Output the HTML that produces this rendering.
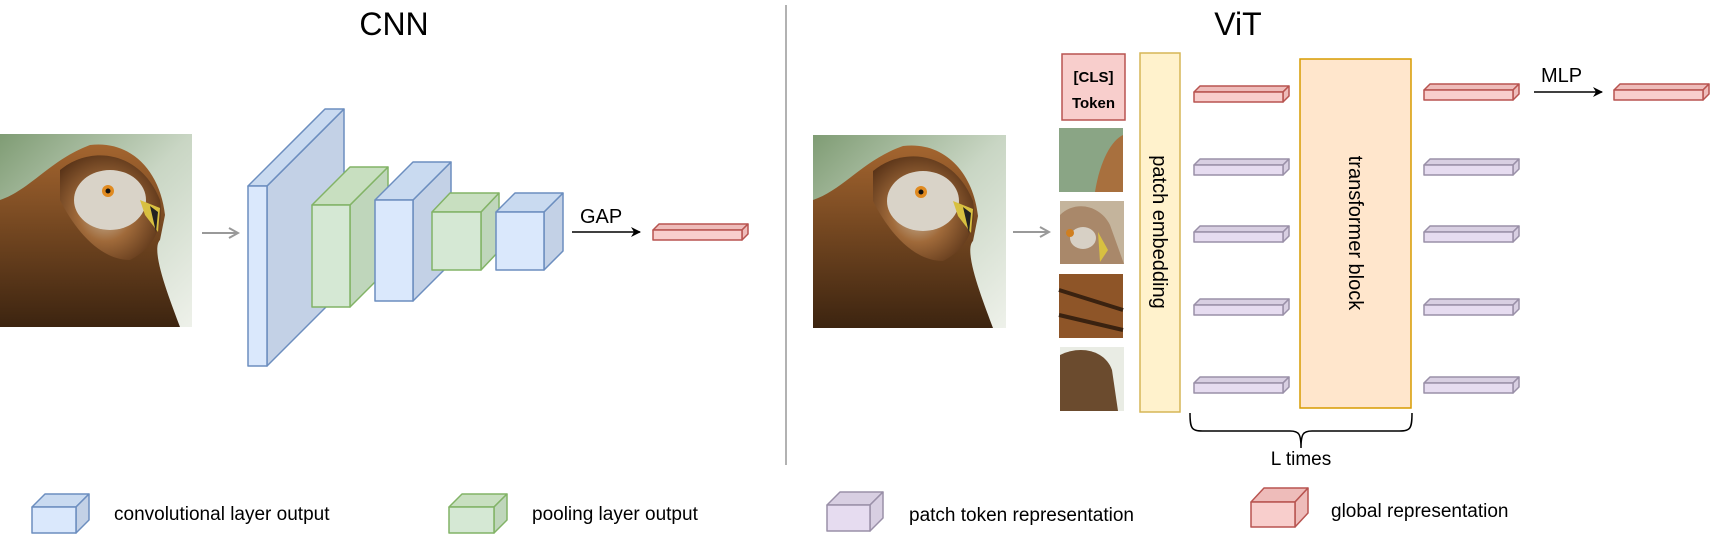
<!DOCTYPE html>
<html><head><meta charset="utf-8"><style>
html,body{margin:0;padding:0;background:#fff;}
svg{display:block;font-family:"Liberation Sans",Arial,sans-serif;}
</style></head><body>
<svg width="1712" height="544" viewBox="0 0 1712 544" xmlns="http://www.w3.org/2000/svg">
<defs>
<linearGradient id="bg" x1="0" y1="0" x2="1" y2="1">
<stop offset="0" stop-color="#7f9c74"/><stop offset="0.5" stop-color="#c9d6c4"/><stop offset="1" stop-color="#eef1ea"/>
</linearGradient>
<radialGradient id="bird" cx="0.45" cy="0.55" r="0.6">
<stop offset="0" stop-color="#c9b8a0"/><stop offset="0.45" stop-color="#a06a3a"/><stop offset="1" stop-color="#5a3418"/>
</radialGradient>
<linearGradient id="bodyg" x1="0" y1="0" x2="0" y2="1">
<stop offset="0" stop-color="#a4652f"/><stop offset="1" stop-color="#3c2410"/>
</linearGradient>
<marker id="ah" markerWidth="10" markerHeight="10" refX="9" refY="5" orient="auto" markerUnits="userSpaceOnUse"><path d="M0,0 L10,5 L0,10 L3,5z" fill="#000"/></marker>
<marker id="ag" markerWidth="12" markerHeight="12" refX="10" refY="6" orient="auto" markerUnits="userSpaceOnUse"><path d="M1,1 L10,6 L1,11" fill="none" stroke="#999" stroke-width="2"/></marker>
</defs>

<!-- titles -->
<text x="394" y="35" font-size="32" text-anchor="middle">CNN</text>
<text x="1238" y="35" font-size="32" text-anchor="middle">ViT</text>
<line x1="786" y1="5" x2="786" y2="465" stroke="#999" stroke-width="1.5"/>

<!-- eagle 1 -->
<g>
<rect x="0" y="134" width="192" height="193" fill="url(#bg)"/>
<path d="M0,200 C30,190 50,160 90,145 C130,140 160,170 165,215 L160,240 C150,250 170,300 180,327 L0,327z" fill="url(#bodyg)"/>
<path d="M60,170 C90,145 140,150 160,200 C165,230 150,250 130,260 C100,260 75,230 60,200z" fill="url(#bird)"/>
<ellipse cx="110" cy="200" rx="36" ry="30" fill="#d9d3c8"/>
<circle cx="108" cy="191" r="6" fill="#e08a20"/><circle cx="108" cy="191" r="2.5" fill="#111"/>
<path d="M140,200 L160,208 L158,232 L145,215z" fill="#d8c040"/>
<path d="M150,206 L158,212 L156,232z" fill="#222"/>
</g>
<line x1="202" y1="233" x2="238" y2="233" stroke="#999" stroke-width="2" marker-end="url(#ag)"/>

<!-- CNN blocks -->
<g stroke="#6c8ebf" stroke-width="1.5" stroke-linejoin="round">
<polygon points="267,186 344,109 344,289 267,366" fill="#c3d1e6"/>
<polygon points="248,186 325,109 344,109 267,186" fill="#c9daf0"/>
<rect x="248" y="186" width="19" height="180" fill="#dae8fc"/>
</g>
<g stroke="#82b366" stroke-width="1.5" stroke-linejoin="round">
<polygon points="350,205 388,167 388,269 350,307" fill="#bfd6bb"/>
<polygon points="312,205 350,167 388,167 350,205" fill="#c8dfc0"/>
<rect x="312" y="205" width="38" height="102" fill="#d5e8d4"/>
</g>
<g stroke="#6c8ebf" stroke-width="1.5" stroke-linejoin="round">
<polygon points="413,200 451,162 451,263 413,301" fill="#c3d1e6"/>
<polygon points="375,200 413,162 451,162 413,200" fill="#c9daf0"/>
<rect x="375" y="200" width="38" height="101" fill="#dae8fc"/>
</g>
<g stroke="#82b366" stroke-width="1.5" stroke-linejoin="round">
<polygon points="481,212 499,193 499,251 481,270" fill="#bfd6bb"/>
<polygon points="432,212 450,193 499,193 481,212" fill="#c8dfc0"/>
<rect x="432" y="212" width="49" height="58" fill="#d5e8d4"/>
</g>
<g stroke="#6c8ebf" stroke-width="1.5" stroke-linejoin="round">
<polygon points="544,212 563,193 563,251 544,270" fill="#c3d1e6"/>
<polygon points="496,212 515,193 563,193 544,212" fill="#c9daf0"/>
<rect x="496" y="212" width="48" height="58" fill="#dae8fc"/>
</g>
<text x="580" y="223" font-size="20">GAP</text>
<line x1="572" y1="232" x2="640" y2="232" stroke="#000" stroke-width="1.5" marker-end="url(#ah)"/>
<g stroke="#b85450" stroke-width="1.5" stroke-linejoin="round">
<polygon points="653,230 659,224 748,224 742,230" fill="#eebcba"/>
<polygon points="742,230 748,224 748,234 742,240" fill="#eebcba"/>
<rect x="653" y="230" width="89" height="10" fill="#f8cecc"/>
</g>

<!-- eagle 2 -->
<g>
<rect x="813" y="135" width="193" height="193" fill="url(#bg)"/>
<path d="M813,200 C843,190 863,160 903,146 C943,141 973,171 978,216 L973,241 C963,251 983,301 993,328 L813,328z" fill="url(#bodyg)"/>
<path d="M873,171 C903,146 953,151 973,201 C978,231 963,251 943,261 C913,261 888,231 873,201z" fill="url(#bird)"/>
<ellipse cx="923" cy="201" rx="36" ry="30" fill="#d9d3c8"/>
<circle cx="921" cy="192" r="6" fill="#e08a20"/><circle cx="921" cy="192" r="2.5" fill="#111"/>
<path d="M953,201 L973,209 L971,233 L958,216z" fill="#d8c040"/>
<path d="M963,207 L971,213 L969,233z" fill="#222"/>
</g>
<line x1="1013" y1="232" x2="1049" y2="232" stroke="#999" stroke-width="2" marker-end="url(#ag)"/>

<!-- CLS -->
<rect x="1062" y="54" width="63" height="66" fill="#f8cecc" stroke="#b85450" stroke-width="1.5"/>
<text x="1093.5" y="82" font-size="15" font-weight="bold" text-anchor="middle">[CLS]</text>
<text x="1093.5" y="108" font-size="15" font-weight="bold" text-anchor="middle">Token</text>

<!-- patches -->
<rect x="1059" y="128" width="64" height="64" fill="#8aa585"/>
<path d="M1095,192 C1100,160 1112,140 1123,135 L1123,192z" fill="#a8703e"/>
<rect x="1060" y="201" width="64" height="63" fill="#c4b49c"/>
<path d="M1060,215 C1075,200 1100,205 1110,225 L1124,264 L1060,264z" fill="#a9886a"/>
<ellipse cx="1083" cy="238" rx="13" ry="11" fill="#d7d0c5"/>
<circle cx="1070" cy="233" r="4" fill="#d07f20"/><path d="M1098,232 L1108,250 L1100,262z" fill="#d8c040"/>
<rect x="1059" y="274" width="64" height="64" fill="#8e5528"/>
<path d="M1059,290 L1123,310 M1059,315 L1123,330" stroke="#3a2210" stroke-width="4"/>
<rect x="1060" y="347" width="64" height="64" fill="#e9ece4"/>
<path d="M1060,355 C1080,345 1105,350 1112,370 L1118,411 L1060,411z" fill="#6b4b2e"/>

<!-- patch embedding -->
<rect x="1140" y="53" width="40" height="359" fill="#fff2cc" stroke="#d6b656" stroke-width="1.5"/>
<text transform="translate(1153,232) rotate(90)" font-size="20" text-anchor="middle">patch embedding</text>

<!-- transformer -->
<rect x="1300" y="59" width="111" height="349" fill="#ffe6cc" stroke="#d79b00" stroke-width="1.5"/>
<text transform="translate(1349,233) rotate(90)" font-size="20" text-anchor="middle">transformer block</text>

<!-- tokens -->
<g stroke-width="1.5" stroke-linejoin="round">
<g stroke="#b85450">
<polygon points="1194,92 1200,86 1289,86 1283,92" fill="#eebcba"/>
<polygon points="1283,92 1289,86 1289,96 1283,102" fill="#eebcba"/>
<rect x="1194" y="92" width="89" height="10" fill="#f8cecc"/>
<polygon points="1424,90 1430,84 1519,84 1513,90" fill="#eebcba"/>
<polygon points="1513,90 1519,84 1519,94 1513,100" fill="#eebcba"/>
<rect x="1424" y="90" width="89" height="10" fill="#f8cecc"/>
<polygon points="1614,90 1620,84 1709,84 1703,90" fill="#eebcba"/>
<polygon points="1703,90 1709,84 1709,94 1703,100" fill="#eebcba"/>
<rect x="1614" y="90" width="89" height="10" fill="#f8cecc"/>
</g>
<g stroke="#9a90a8" fill="#e6dcf0">
<g id="pt">
<polygon points="1194,165 1200,159 1289,159 1283,165" fill="#d8cfe2"/>
<polygon points="1283,165 1289,159 1289,169 1283,175" fill="#d8cfe2"/>
<rect x="1194" y="165" width="89" height="10"/>
</g>
<use href="#pt" y="67"/><use href="#pt" y="140"/><use href="#pt" y="218"/>
<use href="#pt" x="230"/><use href="#pt" x="230" y="67"/><use href="#pt" x="230" y="140"/><use href="#pt" x="230" y="218"/>
</g>
</g>
<text x="1541" y="82" font-size="20">MLP</text>
<line x1="1534" y1="92" x2="1602" y2="92" stroke="#000" stroke-width="1.5" marker-end="url(#ah)"/>

<!-- brace -->
<path d="M1190,413 C1190,430 1192,431 1205,431 L1290,431 C1299,431 1301,434 1301,448 C1301,434 1303,431 1312,431 L1397,431 C1410,431 1412,430 1412,413" fill="none" stroke="#000" stroke-width="1.5"/>
<text x="1301" y="465" font-size="19" text-anchor="middle">L times</text>

<!-- legend -->
<g stroke-width="1.5" stroke-linejoin="round">
<g stroke="#6c8ebf">
<polygon points="32,507 45,494 89,494 76,507" fill="#c9daf0"/>
<polygon points="76,507 89,494 89,520 76,533" fill="#c3d1e6"/>
<rect x="32" y="507" width="44" height="26" fill="#dae8fc"/>
</g>
<g stroke="#82b366">
<polygon points="449,507 462,494 507,494 494,507" fill="#c8dfc0"/>
<polygon points="494,507 507,494 507,520 494,533" fill="#bfd6bb"/>
<rect x="449" y="507" width="45" height="26" fill="#d5e8d4"/>
</g>
<g stroke="#9a90a8">
<polygon points="827,505 840,492 883,492 870,505" fill="#d8cfe2"/>
<polygon points="870,505 883,492 883,518 870,531" fill="#d8cfe2"/>
<rect x="827" y="505" width="43" height="26" fill="#e6dcf0"/>
</g>
<g stroke="#b85450">
<polygon points="1251,502 1264,488 1308,488 1295,502" fill="#eebcba"/>
<polygon points="1295,502 1308,488 1308,513 1295,527" fill="#eebcba"/>
<rect x="1251" y="502" width="44" height="25" fill="#f8cecc"/>
</g>
</g>
<text x="114" y="520" font-size="19">convolutional layer output</text>
<text x="532" y="520" font-size="19">pooling layer output</text>
<text x="909" y="521" font-size="19">patch token representation</text>
<text x="1331" y="517" font-size="19">global representation</text>
</svg>
</body></html>
